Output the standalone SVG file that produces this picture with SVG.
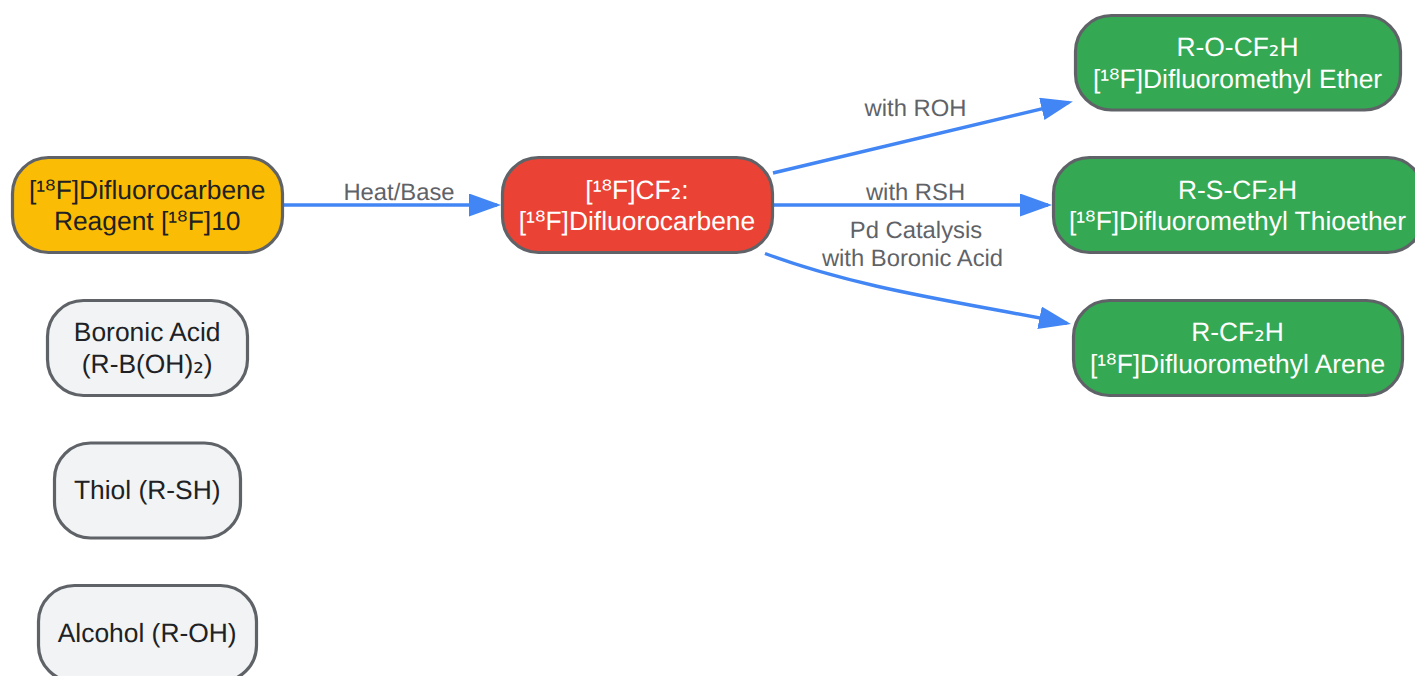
<svg xmlns="http://www.w3.org/2000/svg" width="1415" height="676" viewBox="0 0 1415 676">
<style>
text{font-family:"Liberation Sans",Arial,sans-serif;text-anchor:middle;text-rendering:geometricPrecision}
tspan{font-family:"DejaVu Sans",sans-serif}
.n rect{stroke:#5f6368;stroke-width:3.2}
.n text{font-size:26.4px;fill:#202124}
.w text{fill:#fff}
.g rect{fill:#34a853}
.i rect{fill:#f1f3f4}
.l{font-size:23.8px;fill:#5f6368}
.c path{fill:none;stroke:#4285f4;stroke-width:3.4}
</style>
<defs><marker id="a" markerUnits="userSpaceOnUse" markerWidth="34" markerHeight="24" refX="28" refY="11.5" orient="auto"><path d="M0 0L32 11.5L0 23z" fill="#4285f4"/></marker></defs>
<g id="connectors" class="c">
<path d="M283 205H497" marker-end="url(#a)"/>
<path d="M773 173L1069 102.400" marker-end="url(#a)"/>
<path d="M773 205H1048" marker-end="url(#a)"/>
<path d="M765 253.500C860 289 960 302 1067 323.300" marker-end="url(#a)"/>
</g>
<g id="edge-labels">
<text class="l" x="399" y="200">Heat/Base</text>
<text class="l" x="915.500" y="116">with ROH</text>
<text class="l" x="915.500" y="200">with RSH</text>
<text class="l" x="916" y="238">Pd Catalysis</text>
<text class="l" x="912.500" y="266">with Boronic Acid</text>
</g>
<g id="reagent" class="n"><rect x="12.500" y="157.500" width="270" height="95" rx="36" fill="#fbbc05"/><text x="147.200" y="199">[¹<tspan>⁸</tspan>F]Difluorocarbene</text><text x="147.200" y="230">Reagent [¹<tspan>⁸</tspan>F]10</text></g>
<g id="boronic" class="n i"><rect x="47.500" y="300.500" width="200" height="95" rx="36"/><text x="147.200" y="341">Boronic Acid</text><text x="147.200" y="373">(R-B(OH)<tspan>₂</tspan>)</text></g>
<g id="thiol" class="n i"><rect x="54.500" y="443" width="186" height="95" rx="36"/><text x="147.200" y="499">Thiol (R-SH)</text></g>
<g id="alcohol" class="n i"><rect x="38.500" y="585.500" width="218" height="96" rx="36"/><text x="147.200" y="642">Alcohol (R-OH)</text></g>
<g id="carbene" class="n w"><rect x="502.500" y="157.500" width="270" height="95" rx="36" fill="#ea4335"/><text x="637" y="199">[¹<tspan>⁸</tspan>F]CF<tspan>₂</tspan>:</text><text x="637" y="230">[¹<tspan>⁸</tspan>F]Difluorocarbene</text></g>
<g id="ether" class="n w g"><rect x="1075.500" y="15.500" width="325" height="94.500" rx="36"/><text x="1237.500" y="56">R-O-CF<tspan>₂</tspan>H</text><text x="1237.500" y="88">[¹<tspan>⁸</tspan>F]Difluoromethyl Ether</text></g>
<g id="thioether" class="n w g"><rect x="1053.500" y="157.500" width="370" height="95" rx="36"/><text x="1237.500" y="199">R-S-CF<tspan>₂</tspan>H</text><text x="1237.500" y="230">[¹<tspan>⁸</tspan>F]Difluoromethyl Thioether</text></g>
<g id="arene" class="n w g"><rect x="1073.500" y="300.500" width="329" height="95" rx="36"/><text x="1237.500" y="341">R-CF<tspan>₂</tspan>H</text><text x="1237.500" y="373">[¹<tspan>⁸</tspan>F]Difluoromethyl Arene</text></g>
</svg>
